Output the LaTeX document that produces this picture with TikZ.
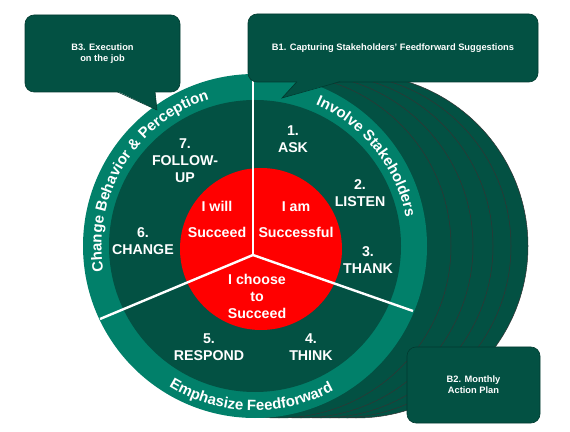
\documentclass[tikz,border=0pt]{standalone}
\usepackage{fontspec}
\setmainfont{Liberation Sans}
\usetikzlibrary{decorations.text}
\definecolor{dkg}{RGB}{3,81,67}
\definecolor{tealring}{RGB}{1,128,106}
\definecolor{bord}{RGB}{2,58,48}
\definecolor{redc}{RGB}{255,0,0}
\newcommand{\mySecFont}{\fontsize{14.2}{17}\selectfont\bfseries}
\newcommand{\myRingFont}{\fontsize{15}{15}\selectfont\bfseries\color{white}}
\newcommand{\myBoxFont}{\fontsize{9.3}{11}\selectfont\bfseries}
\begin{document}
\begin{tikzpicture}[x=1pt,y=1pt,
  sectxt/.style={text=white, font=\mySecFont, align=center, inner sep=0pt},
  bubble/.style={fill=dkg, draw=bord, line width=0.6pt, rounded corners=9pt, inner sep=0pt},
  btxt/.style={text=white, font=\myBoxFont, align=center},
  divline/.style={white, line width=2.4pt},
  stackdisc/.style={fill=dkg, draw=black!80, line width=0.5pt},
  ringtext/.style={decorate, color=white}]
\useasboundingbox (0,0) rectangle (570,431);
\coordinate (C) at (255,185);
\coordinate (R) at (261,182);
\coordinate (M) at (253,176);
\coordinate (Etop) at (253,357);
\coordinate (Eleft) at (100,112);
\coordinate (Eright) at (413,120);
% stacked discs behind
\foreach \dx in {101,84,66,46,24} {\filldraw[stackdisc] (255+\dx,185) circle[radius=172];}
% main circle
\fill[tealring] (C) circle[radius=172];
\fill[dkg] (C) circle[radius=146];
\fill[redc] (R) circle[radius=81];
% dividing lines
\draw[divline] (M) -- (Etop);
\draw[divline] (M) -- (Eleft);
\draw[divline] (M) -- (Eright);
% sector texts
\node[sectxt] (s7) at (185,270) {7.\\FOLLOW-\\UP};
\node[sectxt] (s1) at (293,292) {1.\\ASK};
\node[sectxt] (s2) at (360,238) {2.\\LISTEN};
\node[sectxt] (s3) at (368,171) {3.\\THANK};
\node[sectxt] (s4) at (311,84) {4.\\THINK};
\node[sectxt] (s5) at (209,84) {5.\\RESPOND};
\node[sectxt] (s6) at (143,190) {6.\\CHANGE};
% red circle texts
\node[sectxt] (rw) at (217,212) {I will\\[9pt]Succeed};
\node[sectxt] (ra) at (296,211.5) {I am\\[9pt]Successful};
\node[sectxt] (rc) at (257,135) {I choose\\to\\Succeed};
% ring texts
\path[ringtext, shift={(C)}, decoration={text along path, text align=center,
  text={|\myRingFont|Change Behavior {\&} Perception}}]
  (208.4:153.5) arc[start angle=208.4, end angle=88.4, radius=153.5];
\path[ringtext, shift={(C)}, decoration={text along path, text align=center,
  text={|\myRingFont|Involve Stakeholders}}]
  (83.7:153.5) arc[start angle=83.7, end angle=-6.3, radius=153.5];
\path[ringtext, shift={(C)}, decoration={text along path, text align=center,
  text={|\myRingFont|Emphasize Feedforward}}]
  (223.5:164.5) arc[start angle=223.5, end angle=313.5, radius=164.5];
% callout B3
\node[bubble, minimum width=155, minimum height=77] (b3) at (102.5,377.5) {};
\fill[dkg] (117,340) -- (155,340) -- (157,321) -- cycle;
\draw[bord, line width=0.6pt] (117,339.3) -- (157,321) -- (155,339.3);
\node[btxt] (b3t) at (b3.center) {B3. Execution\\on the job};
% callout B1
\node[bubble, minimum width=290, minimum height=68] (b1) at (393,383) {};
\fill[dkg] (297,350) -- (340,350) -- (282,333) -- cycle;
\draw[bord, line width=0.6pt] (297,349.3) -- (282,333) -- (340,349.3);
\node[btxt] (b1t) at (b1.center) {B1. Capturing Stakeholders' Feedforward Suggestions};
% callout B2
\node[bubble, minimum width=133, minimum height=76] (b2) at (473.5,46) {};
\node[btxt] (b2t) at (b2.center) {B2. Monthly\\Action Plan};
\end{tikzpicture}
\end{document}
